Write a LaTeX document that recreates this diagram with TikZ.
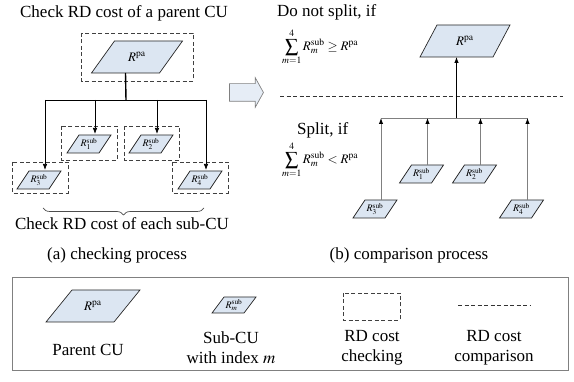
\documentclass[tikz,border=0pt]{standalone}
\usepackage{mathptmx}
\usepackage[no-math]{fontspec}
\setmainfont{Liberation Serif}
\usetikzlibrary{arrows.meta,shapes.arrows,decorations.pathreplacing}

\definecolor{cublue}{HTML}{DCE6F2}
\definecolor{linegray}{HTML}{808080}

\tikzset{
  cushape/.style={fill=cublue, draw=black!85, line width=0.7pt, line join=miter},
  palabel/.style={inner sep=0pt, font=\fontsize{13}{13}\selectfont},
  sublabel/.style={inner sep=0pt, font=\fontsize{10}{10}\selectfont},
  txt/.style={inner sep=0pt, font=\fontsize{17}{20}\selectfont},
  cond/.style={inner sep=0pt, font=\fontsize{13}{15}\selectfont},
  checkbox/.style={draw=black!75, line width=0.9pt, dash pattern=on 4pt off 2.5pt},
  cmpdash/.style={draw=black!80, line width=0.8pt, dash pattern=on 4pt off 2.5pt},
  downarrow/.style={line width=0.7pt, -{Latex[length=6pt,width=4.5pt]}},
  uparrow/.style={draw=linegray, line width=0.9pt, -{Latex[length=6pt,width=4.5pt,color=black]}},
  bigarrow/.style={single arrow, draw=linegray, fill=cublue!70, line width=0.7pt,
    inner sep=8.5pt, minimum height=34pt, single arrow head extend=6pt,
    single arrow tip angle=122},
}

% parallelogram: name, x, y, half width, half slant, half height, label, style
\newcommand{\drawcu}[8]{%
  \filldraw[cushape] (#2-#4-#5,#3+#6) -- (#2-#4+#5,#3-#6) -- (#2+#4+#5,#3-#6) -- (#2+#4-#5,#3+#6) -- cycle;
  \coordinate (#1-top) at (#2+#5,#3-#6);
  \coordinate (#1-bot) at (#2-#5,#3+#6);
  \node[#8] (#1) at (#2,#3) {#7};
}

\begin{document}
\begin{tikzpicture}[x=1pt,y=-1pt]
  \useasboundingbox (0,0) rectangle (574,382);

  % (a) checking process
  \node[txt] (titlea) at (124,13) {Check RD cost of a parent CU};
  \draw[checkbox] (81,33) rectangle (193,81);
  \drawcu{lpa}{137}{57}{34}{11.5}{16}{$R^{\mathrm{pa}}$}{palabel}
  \draw[checkbox] (61,126) rectangle (117,160);
  \draw[checkbox] (124,126) rectangle (179,160);
  \draw[checkbox] (12,162) rectangle (68,193);
  \draw[checkbox] (172,162) rectangle (228,193);
  \drawcu{lsub1}{89}{144}{16}{6}{9}{$R^{\mathrm{sub}}_1$}{sublabel}
  \drawcu{lsub2}{151}{144}{16}{6}{9}{$R^{\mathrm{sub}}_2$}{sublabel}
  \drawcu{lsub3}{39}{180}{16}{6}{9}{$R^{\mathrm{sub}}_3$}{sublabel}
  \drawcu{lsub4}{200}{180}{16}{6}{9}{$R^{\mathrm{sub}}_4$}{sublabel}
  % connectors
  \coordinate (fork) at (126,100);
  \draw[line width=1.4pt] (lpa-bot) -- (fork);
  \draw[line width=0.7pt] (lsub3-top |- fork) -- (lsub4-top |- fork);
  \foreach \s in {lsub1,lsub2,lsub3,lsub4}
    \draw[downarrow, shorten >=1pt] (\s-top |- fork) -- (\s-top);
  \draw[decorate, decoration={brace, mirror, amplitude=7pt}, draw=black!70, line width=0.7pt] (43,208) -- (204,208);
  \node[txt] (checksub) at (122,224) {Check RD cost of each sub-CU};
  \node[txt] (capa) at (117,255) {(a) checking process};

  % big arrow
  \node[bigarrow] (go) at (244,92.5) {};

  % (b) comparison process
  \node[txt, anchor=west] (nosplit) at (277,12) {Do not split, if};
  \node[cond, anchor=west] (condno) at (282,47) {$\displaystyle\sum_{m=1}^{4} R^{\mathrm{sub}}_m \ge R^{\mathrm{pa}}$};
  \draw[cmpdash] (280,96) -- (563,96);
  \node[txt, anchor=west] (split) at (297,130) {Split, if};
  \node[cond, anchor=west] (condyes) at (282,160) {$\displaystyle\sum_{m=1}^{4} R^{\mathrm{sub}}_m < R^{\mathrm{pa}}$};
  \drawcu{rpa}{465}{41}{36.5}{8.5}{16}{$R^{\mathrm{pa}}$}{palabel}
  \drawcu{rsub1}{421.5}{174}{16}{6}{9}{$R^{\mathrm{sub}}_1$}{sublabel}
  \drawcu{rsub2}{474.5}{174}{16}{6}{9}{$R^{\mathrm{sub}}_2$}{sublabel}
  \drawcu{rsub3}{375}{209}{16}{6}{9}{$R^{\mathrm{sub}}_3$}{sublabel}
  \drawcu{rsub4}{521.5}{209}{16}{6}{9}{$R^{\mathrm{sub}}_4$}{sublabel}
  % connectors
  \coordinate (join) at (rpa-bot |- 0,118);
  \draw[line width=0.8pt, -{Latex[length=6pt,width=4.5pt]}] (join) -- (rpa-bot);
  \draw[draw=linegray, line width=0.9pt] (rsub3-top |- join) -- (rsub4-top |- join);
  \foreach \s in {rsub1,rsub2,rsub3,rsub4}
    \draw[uparrow] (\s-top) -- (\s-top |- join);
  \node[txt] (capb) at (409,255) {(b) comparison process};

  % legend
  \draw[draw=linegray, line width=0.9pt] (12,277) rectangle (568,370);
  \drawcu{gpa}{93}{306}{34}{13}{16}{$R^{\mathrm{pa}}$}{palabel}
  \drawcu{gsub}{234}{305}{16}{6}{8}{$R^{\mathrm{sub}}_m$}{sublabel}
  \draw[checkbox] (343,293) rectangle (400,320);
  \draw[cmpdash] (458,305) -- (530,305);
  \node[txt] (legpa) at (88,350) {Parent CU};
  \node[txt, align=center] (legsub) at (231,348) {Sub-CU\\with index $m$};
  \node[txt, align=center] (legchk) at (372,348) {RD cost\\checking};
  \node[txt, align=center] (legcmp) at (494,348) {RD cost\\comparison};
\end{tikzpicture}
\end{document}
